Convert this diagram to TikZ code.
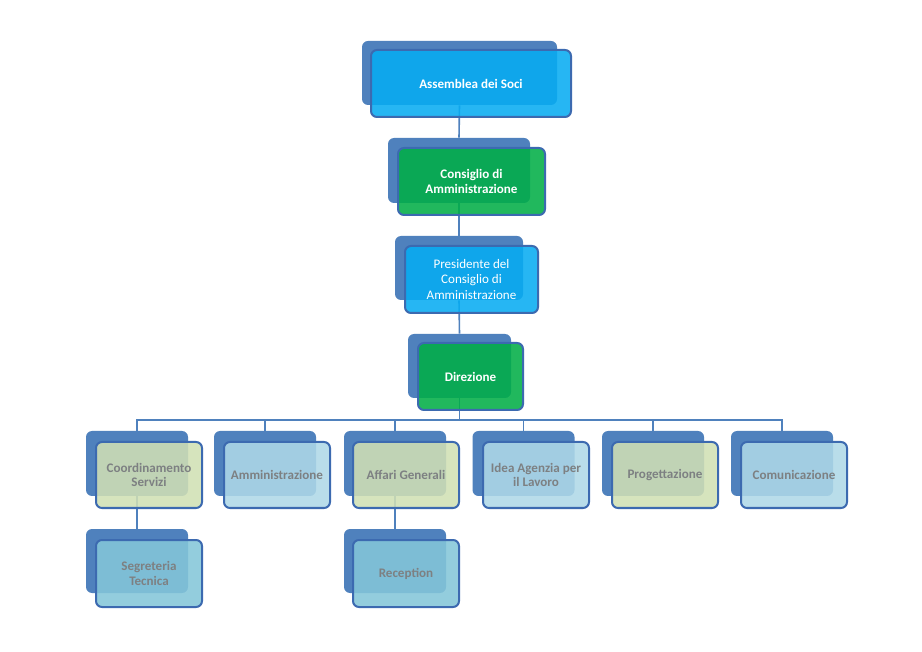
\documentclass[tikz,border=0pt]{standalone}
\usepackage{fontspec}
\setmainfont{Carlito}
\usetikzlibrary{backgrounds}
\definecolor{backblue}{RGB}{79,129,189}
\definecolor{edgeblue}{RGB}{60,106,176}
\definecolor{linkblue}{RGB}{79,129,189}
\definecolor{cyanf}{RGB}{6,172,242}
\definecolor{greenf}{RGB}{0,174,70}
\definecolor{lightbluef}{RGB}{175,217,232}
\definecolor{lightgreenf}{RGB}{209,224,180}
\definecolor{midbluef}{RGB}{132,198,217}
\definecolor{txtgray}{RGB}{125,128,130}
\def\u{0.75pt}
\tikzset{
  x=0.75pt, y=-0.75pt,
  backbox/.style={rectangle, rounded corners=4.5pt, fill=backblue, draw=none, inner sep=0pt},
  frontbox/.style={rectangle, rounded corners=4.5pt, draw=edgeblue, line width=1.5pt, fill opacity=0.87, text opacity=1, inner sep=2pt, align=center, font=\fontsize{9.8}{10.9}\selectfont},
  toplev/.style={frontbox, text=white},
  childbox/.style={frontbox, text=txtgray, font=\fontsize{9.8}{10.9}\selectfont\bfseries},
  bigback/.style={backbox, minimum height=64*\u},
  bigfront/.style={minimum height=67*\u},
  cback/.style={backbox, minimum width=102*\u, minimum height=65*\u},
  cfront/.style={childbox, minimum width=106*\u, minimum height=66*\u},
  link/.style={draw=linkblue, line width=1.2pt},
}
\begin{document}
\begin{tikzpicture}
\useasboundingbox (0,0) rectangle (922,652);
% top chain
\node[bigback, minimum width=195*\u] (asb) at (459.5,73) {};
\node[toplev, bigfront, fill=cyanf, minimum width=200*\u, font=\fontsize{9.8}{10.9}\selectfont\bfseries] (as) at (471,83.5) {Assemblea dei Soci};
\node[bigback, minimum width=142*\u, minimum height=65*\u] (cdab) at (459,170.5) {};
\node[toplev, bigfront, fill=greenf, minimum width=147*\u, font=\fontsize{9.8}{10.9}\selectfont\bfseries] (cda) at (471.5,181.5) {Consiglio di\\Amministrazione};
\node[bigback, minimum width=128*\u] (presb) at (459,268) {};
\node[toplev, bigfront, fill=cyanf, minimum width=133*\u, font=\fontsize{9.8}{11.3}\selectfont] (pres) at (471.5,279.5) {Presidente del\\Consiglio di\\Amministrazione};
\node[bigback, minimum width=103*\u] (dirb) at (459.5,366) {};
\node[toplev, bigfront, fill=greenf, minimum width=105*\u, font=\fontsize{9.8}{10.9}\selectfont\bfseries] (dir) at (470.5,376.5) {Direzione};
% children row
\node[cback] (c1b) at (137,463.5) {};
\node[cfront, fill=lightgreenf] (c1) at (149,475) {Coordinamento\\Servizi};
\node[cback] (c2b) at (265,463.5) {};
\node[cfront, fill=lightbluef] (c2) at (277,475) {Amministrazione};
\node[cback] (c3b) at (395,463.5) {};
\node[cfront, fill=lightgreenf] (c3) at (406,475) {Affari Generali};
\node[cback] (c4b) at (523.5,463.5) {};
\node[cfront, fill=lightbluef] (c4) at (536,475) {Idea Agenzia per\\il Lavoro};
\node[cback] (c5b) at (653,463.5) {};
\node[cfront, fill=lightgreenf] (c5) at (665,475) {Progettazione};
\node[cback] (c6b) at (782,463.5) {};
\node[cfront, fill=lightbluef] (c6) at (794,475) {Comunicazione};
% second row
\node[cback, minimum height=64*\u] (s1b) at (137,561) {};
\node[cfront, fill=midbluef, minimum height=67*\u] (s1) at (149,573.5) {Segreteria\\Tecnica};
\node[cback, minimum height=64*\u] (s3b) at (395,561) {};
\node[cfront, fill=midbluef, minimum height=67*\u] (s3) at (406,573.5) {Reception};
\coordinate (bus) at (459.5,420);
\begin{pgfonlayer}{background}
\fill[white] (0,0) rectangle (922,652);
\draw[link] (asb.south) -- (cdab.north);
\draw[link] (cdab.south) -- (presb.north);
\draw[link] (presb.south) -- (dirb.north);
\draw[link] (dirb.south) -- (dirb.south |- bus);
\draw[link] (c1b.north) -- (c1b.north |- bus) -- (c6b.north |- bus) -- (c6b.north);
\draw[link] (c2b.north) -- (c2b.north |- bus);
\draw[link] (c3b.north) -- (c3b.north |- bus);
\draw[link] (c4b.north) -- (c4b.north |- bus);
\draw[link] (c5b.north) -- (c5b.north |- bus);
\draw[link] (c1b.south) -- (s1b.north);
\draw[link] (c3b.south) -- (s3b.north);
\end{pgfonlayer}
\end{tikzpicture}
\end{document}
